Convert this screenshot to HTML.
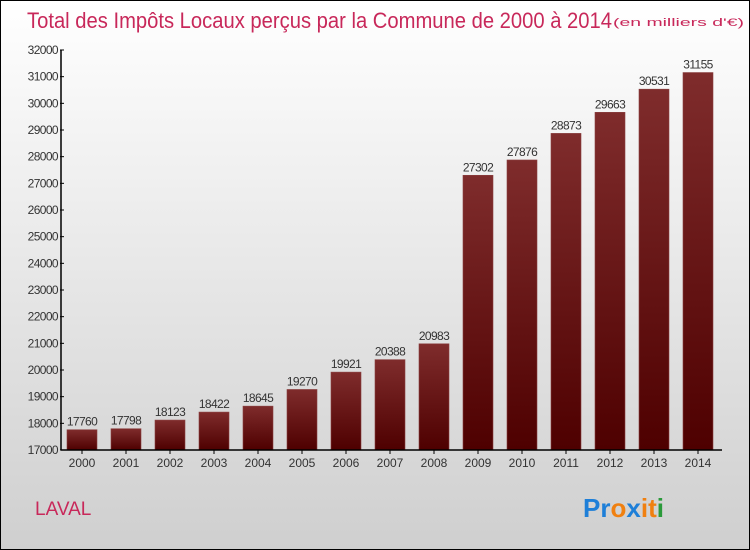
<!DOCTYPE html>
<html><head><meta charset="utf-8"><style>
body{margin:0;}
#c{width:748px;height:548px;border:1px solid #000;background:linear-gradient(#ffffff,#cfcfcf);position:relative;overflow:hidden;font-family:"Liberation Sans",sans-serif;}
</style></head><body>
<div id="c">
<svg width="748" height="548" viewBox="0 0 748 548" id="svg">
<defs><linearGradient id="bg" x1="0" y1="0" x2="0" y2="1"><stop offset="0" stop-color="#7f2c2c"/><stop offset="1" stop-color="#4e0000"/></linearGradient></defs>
<text x="26" y="27" font-size="22" fill="#c8285a" textLength="585" lengthAdjust="spacingAndGlyphs">Total des Impôts Locaux perçus par la Commune de 2000 à 2014</text>
<text x="612" y="25" font-size="11" fill="#c8285a" textLength="131" lengthAdjust="spacingAndGlyphs">(en milliers d'€)</text>
<text x="34" y="514" font-size="19" fill="#c8285a">LAVAL</text>
<text x="582" y="516" font-size="26" font-weight="bold"><tspan fill="#1e7fd8">Pr</tspan><tspan fill="#f08010">o</tspan><tspan fill="#1e7fd8">x</tspan><tspan fill="#f08010">i</tspan><tspan fill="#f08010">t</tspan><tspan fill="#2a9a3a">i</tspan></text>
<g id="plot"></g>
</svg>
</div>
<script>
const years=["2000","2001","2002","2003","2004","2005","2006","2007","2008","2009","2010","2011","2012","2013","2014"];
const values=[17760,17798,18123,18422,18645,19270,19921,20388,20983,27302,27876,28873,29663,30531,31155];
const yTicks=[17000,18000,19000,20000,21000,22000,23000,24000,25000,26000,27000,28000,29000,30000,31000,32000];
const NS="http://www.w3.org/2000/svg";
const g=document.getElementById('plot');
const yMin=17000,yMax=32000,y0=449,y1=49;
function y(v){return y0-(v-yMin)/(yMax-yMin)*(y0-y1);}
function x(i){return 66+i*44;}
function mk(t,a,txt){const e=document.createElementNS(NS,t);for(const k in a)e.setAttribute(k,a[k]);if(txt!==undefined)e.textContent=txt;g.appendChild(e);return e;}
values.forEach((v,i)=>{
 const r=mk('rect',{x:x(i),y:y(v),width:30,height:y0-y(v),fill:'url(#bg)',stroke:'#8a4040','stroke-width':0.6});
 
 
 const t=mk('text',{x:x(i)+15,y:y(v)-4,'font-size':12,fill:'#333','text-anchor':'middle','letter-spacing':'-0.6'},v);
 
 
 const xl=mk('text',{x:x(i)+15,y:466,'font-size':12,fill:'#333','text-anchor':'middle'},years[i]);
 
 
 mk('line',{x1:x(i)+15,x2:x(i)+15,y1:y0,y2:y0+4,stroke:'#000'});
});
yTicks.forEach(v=>{
 const t=mk('text',{x:57,y:y(v)+4,'font-size':12,fill:'#333','text-anchor':'end','letter-spacing':'-0.6'},v);
 
 
 mk('line',{x1:59,x2:63,y1:y(v),y2:y(v),stroke:'#000'});
});
const ya=mk('line',{x1:60,x2:60,y1:y1,y2:y0,stroke:'#000','stroke-width':1.5});


const xa=mk('line',{x1:60,x2:721,y1:y0,y2:y0,stroke:'#000','stroke-width':1.5});


</script>
</body></html>
